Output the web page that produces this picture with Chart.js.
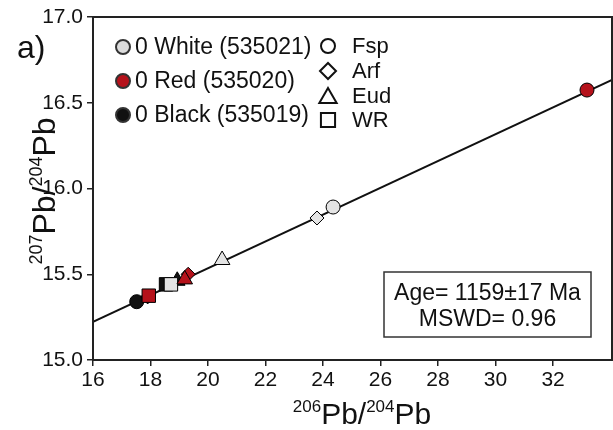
<!DOCTYPE html>
<html>
<head>
<meta charset="utf-8">
<script src="https://cdn.jsdelivr.net/npm/chart.js@4.4.0/dist/chart.umd.min.js"></script>
<style>
    body { margin: 0; background: #fff; overflow: hidden; }
</style>
</head>
<body>
<canvas id="pbChart" width="613" height="430"></canvas>
<script>
// tick labels
var xTicks = [16, 18, 20, 22, 24, 26, 28, 30, 32]
var yTicks = [15.0, 15.5, 16.0, 16.5, 17.0]

// minerals, in the order the points are listed below
var minerals = ['Fsp', 'Arf', 'Eud', 'WR']
var mineralStyles = ['circle', 'rectRot', 'triangle', 'rect']
var mineralRadius = [7, 7, 9, 9.5]

// samples
var sampleLabels = ['0 White (535021)', '0 Red (535020)', '0 Black (535019)']
var sampleColors = ['#dcdcdc', '#b5121b', '#111111']

// 206Pb/204Pb and 207Pb/204Pb per sample (Fsp, Arf, Eud, WR)
var whiteX = [24.35, 23.79, 20.49, 18.71]
var whiteY = [15.892, 15.828, 15.583, 15.441]
var redX = [33.18, 19.31, 19.19, 17.94]
var redY = [16.574, 15.500, 15.470, 15.375]
var blackX = [17.52, 17.90, 18.93, 18.54]
var blackY = [15.340, 15.368, 15.462, 15.441]

// isochron end points
var isoX = [16, 34.05]
var isoY = [15.222, 16.633]

var ageText = ['Age= 1159\u00b117 Ma', 'MSWD= 0.96']

Chart.defaults.font.family = '"Liberation Sans", Arial, sans-serif'
Chart.defaults.color = '#111'

function toPoints(xs, ys) {
    return xs.map(function (x, i) { return { x: x, y: ys[i] } })
}

function sampleDataset(label, xs, ys, color) {
    return {
        label: label,
        data: toPoints(xs, ys),
        pointStyle: mineralStyles,
        pointRadius: mineralRadius,
        backgroundColor: color,
        borderColor: '#000',
        borderWidth: 1,
        showLine: false
    }
}

function drawParts(ctx, parts, cx, y, lift) {
    var total = 0
    parts.forEach(function (p) {
        ctx.font = p[1] + 'px "Liberation Sans", Arial, sans-serif'
        p.w = ctx.measureText(p[0]).width
        total += p.w
    })
    var x = cx - total / 2
    ctx.textAlign = 'left'
    ctx.textBaseline = 'alphabetic'
    parts.forEach(function (p) {
        ctx.font = p[1] + 'px "Liberation Sans", Arial, sans-serif'
        ctx.fillText(p[0], x, p[2] ? y - lift : y)
        x += p.w
    })
}

var extras = {
    id: 'extras',
    afterDraw: function (chart) {
        var ctx = chart.ctx
        var a = chart.chartArea
        var h = Chart.helpers
        ctx.save()
        // frame
        ctx.strokeStyle = '#222'
        ctx.lineWidth = 2
        ctx.strokeRect(a.left, a.top, a.right - a.left, a.bottom - a.top)

        ctx.fillStyle = '#111'
        // panel letter
        ctx.font = '32px "Liberation Sans", Arial, sans-serif'
        ctx.textAlign = 'left'
        ctx.textBaseline = 'alphabetic'
        ctx.fillText('a)', 17, 58)

        // axis titles
        drawParts(ctx, [['206', 17, true], ['Pb/', 30, false], ['204', 17, true], ['Pb', 30, false]], 362, 424, 12)
        ctx.save()
        ctx.translate(55, 191)
        ctx.rotate(-Math.PI / 2)
        drawParts(ctx, [['207', 18, true], ['Pb/', 32, false], ['204', 18, true], ['Pb', 32, false]], 0, 0, 13)
        ctx.restore()

        // sample legend
        var rowsA = [47, 81, 115]
        ctx.font = '23px "Liberation Sans", Arial, sans-serif'
        ctx.textBaseline = 'middle'
        sampleLabels.forEach(function (lab, i) {
            ctx.fillStyle = sampleColors[i]
            ctx.strokeStyle = '#333'
            h.drawPoint(ctx, { pointStyle: 'circle', radius: 7, borderWidth: 1 }, 123, rowsA[i])
            ctx.fillStyle = '#111'
            ctx.fillText(lab, 135, rowsA[i] + 1)
        })
        // mineral legend
        var rowsB = [46, 71, 96, 120]
        var legR = [7, 8, 10, 10]
        ctx.font = '22px "Liberation Sans", Arial, sans-serif'
        minerals.forEach(function (lab, i) {
            ctx.fillStyle = '#fff'
            ctx.strokeStyle = '#111'
            h.drawPoint(ctx, { pointStyle: mineralStyles[i], radius: legR[i], borderWidth: 1.1 }, 328, rowsB[i] + (i == 2 ? 2 : 0))
            ctx.fillStyle = '#111'
            ctx.fillText(lab, 352, rowsB[i] + 1)
        })

        // age box
        ctx.strokeStyle = '#333'
        ctx.lineWidth = 1.5
        ctx.strokeRect(384, 272, 207, 65)
        ctx.font = '23px "Liberation Sans", Arial, sans-serif'
        ctx.textAlign = 'center'
        ctx.fillText(ageText[0], 487.5, 294)
        ctx.fillText(ageText[1], 487.5, 320)
        ctx.restore()
    }
}

var pbChart = new Chart(document.getElementById('pbChart'), {
    type: 'scatter',
    data: {
        datasets: [
            sampleDataset(sampleLabels[1], redX, redY, sampleColors[1]),
            sampleDataset(sampleLabels[0], whiteX, whiteY, '#e4e4e4'),
            sampleDataset(sampleLabels[2], blackX, blackY, sampleColors[2]),
            {
                label: 'Isochron',
                data: toPoints(isoX, isoY),
                showLine: true,
                pointRadius: 0,
                borderColor: '#111',
                borderWidth: 2
            }
        ]
    },
    options: {
        responsive: false,
        animation: false,
        events: [],
        layout: { autoPadding: false, padding: { top: 17, right: 1, left: 0, bottom: 0 } },
        scales: {
            x: {
                type: 'linear',
                min: 16,
                max: 34.05,
                afterBuildTicks: function (scale) {
                    scale.ticks = xTicks.map(function (v) { return { value: v } })
                },
                afterFit: function (scale) {
                    scale.height = 70
                    scale.paddingLeft = 0
                    scale.paddingRight = 0
                },
                ticks: { font: { size: 21 }, color: '#111', padding: 2, maxRotation: 0, autoSkip: false },
                grid: { drawOnChartArea: false, tickLength: 6, color: '#222', lineWidth: 1.5 },
                border: { display: false }
            },
            y: {
                type: 'linear',
                min: 15,
                max: 17,
                afterBuildTicks: function (scale) {
                    scale.ticks = yTicks.map(function (v) { return { value: v } })
                },
                afterFit: function (scale) { scale.width = 93 },
                ticks: {
                    font: { size: 21 }, color: '#111', padding: 4, autoSkip: false,
                    callback: function (v) { return v.toFixed(1) }
                },
                grid: { drawOnChartArea: false, tickLength: 6, color: '#222', lineWidth: 1.5 },
                border: { display: false }
            }
        },
        plugins: {
            legend: { display: false },
            tooltip: { enabled: false }
        }
    },
    plugins: [extras]
})
</script>
</body>
</html>
